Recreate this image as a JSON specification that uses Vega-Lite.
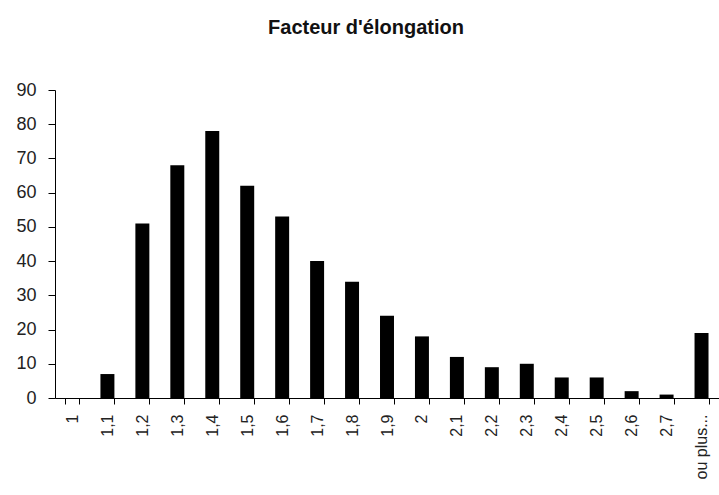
{
  "$schema": "https://vega.github.io/schema/vega-lite/v6.json",
  "autosize": "none",
  "width": 664,
  "height": 308,
  "padding": {"left": 55, "top": 90, "right": 0, "bottom": 97},
  "background": "white",
  "title": {
    "text": "Facteur d'élongation",
    "font": "Liberation Sans",
    "fontSize": 20,
    "fontWeight": "bold",
    "color": "#111",
    "anchor": "middle",
    "dx": -21,
    "baseline": "alphabetic",
    "offset": 27
  },
  "data": {
    "values": [
      {"classe": "1", "frequence": 0},
      {"classe": "1,1", "frequence": 7},
      {"classe": "1,2", "frequence": 51},
      {"classe": "1,3", "frequence": 68},
      {"classe": "1,4", "frequence": 78},
      {"classe": "1,5", "frequence": 62},
      {"classe": "1,6", "frequence": 53},
      {"classe": "1,7", "frequence": 40},
      {"classe": "1,8", "frequence": 34},
      {"classe": "1,9", "frequence": 24},
      {"classe": "2", "frequence": 18},
      {"classe": "2,1", "frequence": 12},
      {"classe": "2,2", "frequence": 9},
      {"classe": "2,3", "frequence": 10},
      {"classe": "2,4", "frequence": 6},
      {"classe": "2,5", "frequence": 6},
      {"classe": "2,6", "frequence": 2},
      {"classe": "2,7", "frequence": 1},
      {"classe": "ou plus...", "frequence": 19}
    ]
  },
  "mark": {"type": "bar", "color": "#000"},
  "encoding": {
    "x": {
      "field": "classe",
      "type": "nominal",
      "sort": null,
      "scale": {"paddingInner": 0.6, "paddingOuter": 0.3},
      "axis": {
        "title": null,
        "labelAngle": -90,
        "labelAlign": "right",
        "labelBaseline": "middle",
        "labelFont": "Liberation Sans",
        "labelFontSize": 16,
        "labelColor": "#222",
        "labelPadding": 10,
        "tickBand": "extent",
        "tickSize": 6,
        "tickColor": "#000",
        "domainColor": "#000",
        "grid": false
      }
    },
    "y": {
      "field": "frequence",
      "type": "quantitative",
      "scale": {"domain": [0, 90], "nice": false},
      "axis": {
        "title": null,
        "values": [0, 10, 20, 30, 40, 50, 60, 70, 80, 90],
        "labelFont": "Liberation Sans",
        "labelFontSize": 18,
        "labelColor": "#222",
        "labelPadding": 12,
        "tickSize": 7,
        "tickColor": "#000",
        "domainColor": "#000",
        "grid": false
      }
    }
  },
  "config": {"view": {"stroke": null}}
}
